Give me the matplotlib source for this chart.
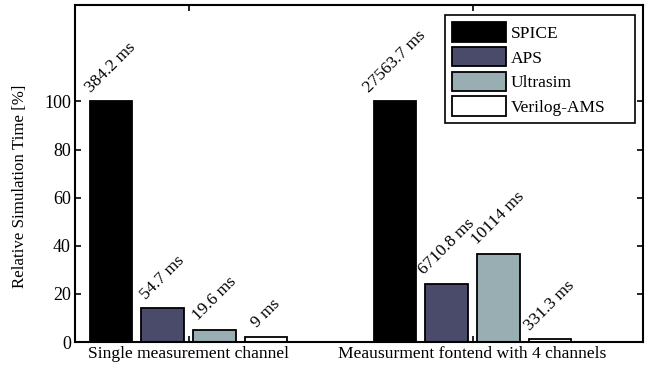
import numpy as np
import matplotlib
matplotlib.use('Agg')
import matplotlib.pyplot as plt

plt.rcParams['font.family'] = ['Liberation Serif', 'DejaVu Serif']

# data
groups = ['Single measurement channel', 'Meausurment fontend with 4 channels']
simulators = ['SPICE', 'APS', 'Ultrasim', 'Verilog-AMS']
rel_time = {
    'SPICE': [100.0, 100.0],
    'APS': [14.2, 24.3],
    'Ultrasim': [5.1, 36.7],
    'Verilog-AMS': [2.3, 1.2],
}
time_labels = {
    'SPICE': ['384.2 ms', '27563.7 ms'],
    'APS': ['54.7 ms', '6710.8 ms'],
    'Ultrasim': ['19.6 ms', '10114 ms'],
    'Verilog-AMS': ['9 ms', '331.3 ms'],
}
colors = ['#000000', '#4a4a6a', '#98aeb3', '#ffffff']


def main():
    fig = plt.figure(figsize=(6.52, 3.71), dpi=100)
    ax = fig.add_axes([0.115, 0.078, 0.871, 0.908])

    x = np.arange(1, len(groups) + 1)
    width = 0.15
    step = 0.182
    for i, sim in enumerate(simulators):
        pos = x + (i - 1.5) * step
        ax.bar(pos, rel_time[sim], width, color=colors[i], edgecolor='black',
               linewidth=1.3, label=sim)
        for xp, val, lab in zip(pos, rel_time[sim], time_labels[sim]):
            ax.annotate(lab, (xp, val), xytext=(0, 4), textcoords='offset points',
                        rotation=45, ha='center', va='bottom', fontsize=12.5)

    ax.set_xlim(0.6, 2.6)
    ax.set_ylim(0, 140)
    ax.set_yticks([0, 20, 40, 60, 80, 100])
    ax.set_xticks(x)
    ax.set_xticklabels(groups, fontsize=12.6)
    ax.tick_params(axis='y', labelsize=13)
    ax.tick_params(direction='in', top=True, right=True, length=4, width=1.2, pad=3)
    for sp in ax.spines.values():
        sp.set_linewidth(1.5)

    ax.set_ylabel('Relative Simulation Time [%]', fontsize=12.2)
    ax.yaxis.set_label_coords(-0.082, 0.463)

    leg = ax.legend(loc='upper right', bbox_to_anchor=(0.651, 0.6, 0.3345, 0.37),
                    mode='expand', fontsize=12.5,
                    handlelength=3.15, handleheight=1.35, labelspacing=0.3,
                    handletextpad=0.25, borderpad=0.4, borderaxespad=0,
                    fancybox=False, framealpha=1)
    leg.get_frame().set_edgecolor('black')
    leg.get_frame().set_linewidth(1.2)

    fig.savefig('out.png', dpi=100)


if __name__ == "__main__":
    main()
